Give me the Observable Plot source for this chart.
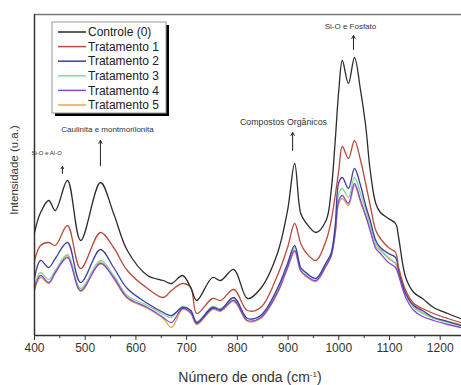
<!DOCTYPE html>
<html><head><meta charset="utf-8">
<script src="https://cdn.jsdelivr.net/npm/d3@7"></script>
<script src="https://cdn.jsdelivr.net/npm/@observablehq/plot@0.6"></script>
<style>body{margin:0;background:#fff}</style>
</head><body><div id="chart"></div>
<script>
const wavenumbers = [400,412,428,441,465,491,530,556,583,623,654,670,692,708,720,751,767,793,820,846,879,899,913,925,935,955,975,985,993,1000,1007,1019,1031,1043,1053,1062,1073,1082,1098,1112,1118,1132,1148,1165,1187,1215,1240];
const controle = [103,123,135,125,155,95,153,122,85,60,55,52,60,48,35,58,55,66,37,47,82,125,172,122,113,103,115,145,195,245,275,252,278,245,210,165,132,123,117,112,98,58,43,37,28,22,17];
const tratamento1 = [75,90,93,90,110,67,103,88,65,47,38,45,52,48,22,37,35,46,25,28,60,88,112,92,83,75,95,115,140,165,189,177,195,175,152,130,105,97,88,83,68,45,32,27,22,17,13];
const tratamento2 = [57,75,68,77,93,53,86,68,47,32,23,20,28,25,13,28,26,38,17,20,47,72,90,68,63,57,73,82,110,153,158,147,167,150,130,115,95,88,82,78,65,42,30,25,18,14,10];
const tratamento3 = [49,63,56,65,81,47,75,60,40,30,21,18,29,25,14,29,27,37,17,20,45,70,88,67,62,57,72,83,108,142,147,138,158,142,126,110,92,86,78,72,63,41,28,22,17,13,10];
const tratamento4 = [47,60,53,63,78,45,72,58,38,28,18,13,27,23,12,27,25,35,15,18,43,68,85,65,60,55,70,80,103,135,140,132,152,135,120,105,87,82,73,68,60,38,25,19,15,11,8];
const tratamento5 = [45,58,52,62,80,44,73,57,37,27,17,8,26,22,11,26,24,34,14,17,42,67,84,64,59,54,69,79,101,132,137,130,150,133,119,105,89,85,77,72,64,42,29,23,18,14,11];
const seriesNames = ["Controle (0)","Tratamento 1","Tratamento 2","Tratamento 3","Tratamento 4","Tratamento 5"];
const xTicks = [400,500,600,700,800,900,1000,1100,1200];
const xMinorTicks = [450,550,650,750,850,950,1050,1150];
const annLabels = ["Si-O e Fosfato","Compostos Orgânicos","Caulinita e montmorilonita","Si-O e Al-O"];
const annX = [1023,891,544,424];
const annY = [309,213,206,182];
const arrowX = [1029,909,530,455];
const arrowY1 = [286,185,170,162];
const arrowY2 = [300,203,195,169];

const seriesColors = ["#2b2b2b","#b84a3c","#3d3f9f","#84d69c","#8c46d4","#d8aa52"];
const seriesValues = [controle,tratamento1,tratamento2,tratamento3,tratamento4,tratamento5];
const drawOrder = [5,3,4,2,1,0];
const font = "'Liberation Sans', Arial, Helvetica, sans-serif";
const annSize = {"Si-O e Fosfato":8, "Compostos Orgânicos":8.8, "Caulinita e montmorilonita":8, "Si-O e Al-O":6};

const lineMarks = drawOrder.map(i => Plot.line(
  wavenumbers.map((w,j) => ({wn:w, v:seriesValues[i][j]})),
  {x:"wn", y:"v", stroke:seriesColors[i], strokeWidth:1.3, curve:"catmull-rom"}));

const ann = annLabels.map((t,i)=>({t, x:annX[i], y:annY[i], ax:arrowX[i], y1:arrowY1[i], y2:arrowY2[i]}));

const plot = Plot.plot({
  width:461, height:385,
  marginLeft:34, marginRight:0, marginTop:14, marginBottom:50,
  style:{fontFamily:font, fontSize:"12px", color:"#333", background:"#fff"},
  x:{domain:[400,1242]},
  y:{domain:[0,321], axis:null},
  marks:[
    Plot.ruleY([321], {stroke:"#777", strokeWidth:1.5}),
    ...lineMarks,
    Plot.ruleX([400], {stroke:"#333", strokeWidth:1.5}),
    Plot.ruleY([0], {stroke:"#333", strokeWidth:1.5}),
    Plot.axisX({ticks:xTicks, tickSize:5, tickPadding:3, label:null, fontSize:12, tickFormat:d => String(d)}),
    Plot.axisX({ticks:xMinorTicks, tickSize:3, tickFormat:()=>"", label:null}),
    ...ann.map(a => Plot.text([a], {x:"x", y:"y", text:"t", fontSize:annSize[a.t], fill:"#333"})),
    Plot.arrow(ann, {x1:"ax", x2:"ax", y1:"y1", y2:"y2", stroke:"#222", strokeWidth:1, headLength:5})
  ]
});

const svg = d3.select(plot);
// Axis titles
svg.append("text").attr("transform","translate(15,170) rotate(-90)")
  .attr("text-anchor","middle").attr("dominant-baseline","middle")
  .attr("font-family",font).attr("font-size",11.5).attr("fill","#333")
  .text("Intensidade (u.a.)");
const xl = svg.append("text").attr("x",250).attr("y",382)
  .attr("text-anchor","middle").attr("font-family",font).attr("font-size",14).attr("fill","#333");
xl.append("tspan").text("Número de onda (cm");
xl.append("tspan").attr("dy",-5).attr("font-size",8).text("-1");
xl.append("tspan").attr("dy",5).text(")");

// Legend
const lg = svg.append("g").attr("font-family",font).attr("font-size",12).attr("text-anchor","start");
lg.append("rect").attr("x",55).attr("y",25).attr("width",114).attr("height",91).attr("fill","#000");
lg.append("rect").attr("x",52).attr("y",22).attr("width",114).attr("height",91).attr("fill","#fff").attr("stroke","#999");
seriesNames.forEach((n,i)=>{
  const yy = 32 + i*14.6;
  lg.append("line").attr("x1",58).attr("x2",86).attr("y1",yy).attr("y2",yy).attr("stroke",seriesColors[i]).attr("stroke-width",1.5);
  lg.append("text").attr("x",88).attr("y",yy).attr("dy","0.35em").attr("text-anchor","start").attr("fill","#222").text(n);
});

document.getElementById("chart").appendChild(plot);
</script>
</body></html>
